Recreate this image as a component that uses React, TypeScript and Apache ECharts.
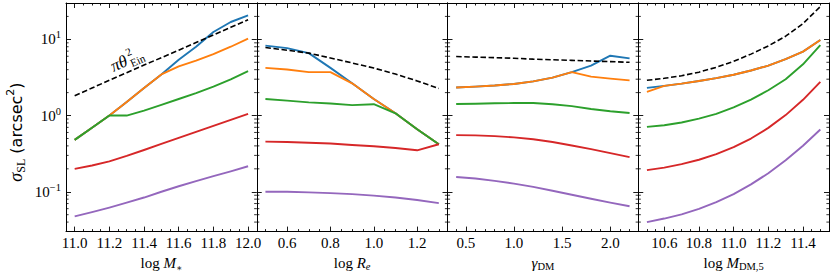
import React, { useEffect, useRef } from 'react';
import * as echarts from 'echarts';

// ---------- data ----------
const mStar = [11.0, 11.1, 11.2, 11.3, 11.4, 11.5, 11.6, 11.7, 11.8, 11.9, 12.0];
const p1Blue = [0.48, 0.69, 1.0, 1.51, 2.3, 3.46, 5.4, 8.0, 12.5, 16.9, 20.7];
const p1Orange = [0.48, 0.69, 1.0, 1.51, 2.3, 3.46, 4.43, 5.25, 6.4, 8.0, 10.2];
const p1Green = [0.48, 0.69, 1.0, 1.0, 1.16, 1.38, 1.65, 1.97, 2.4, 2.98, 3.82];
const p1Red = [0.2, 0.221, 0.25, 0.295, 0.353, 0.425, 0.511, 0.611, 0.73, 0.875, 1.05];
const p1Purple = [0.0475, 0.054, 0.062, 0.072, 0.084, 0.1, 0.118, 0.138, 0.16, 0.185, 0.216];
const p1Dashed = [1.82, 2.3, 2.9, 3.65, 4.6, 5.75, 7.2, 9.1, 11.4, 14.4, 18.1];

const logRe = [0.5, 0.6, 0.7, 0.8, 0.9, 1.0, 1.1, 1.2, 1.3];
const p2Blue = [8.27, 7.66, 6.6, 4.22, 2.65, 1.65, 1.07, 0.66, 0.42];
const p2Orange = [4.23, 4.02, 3.71, 3.71, 2.65, 1.65, 1.07, 0.66, 0.42];
const p2Green = [1.65, 1.57, 1.49, 1.44, 1.37, 1.41, 1.07, 0.66, 0.42];
const p2Red = [0.455, 0.45, 0.44, 0.43, 0.41, 0.395, 0.375, 0.35, 0.42];
const p2Purple = [0.1, 0.1, 0.098, 0.096, 0.093, 0.089, 0.084, 0.078, 0.071];
const p2Dashed = [7.8, 7.2, 6.6, 5.7, 4.9, 4.2, 3.5, 2.85, 2.27];

const gammaDM = [0.4, 0.6, 0.8, 1.0, 1.2, 1.4, 1.6, 1.8, 2.0, 2.2];
const p3Blue = [2.33, 2.4, 2.48, 2.6, 2.81, 3.14, 3.71, 4.52, 6.1, 5.62];
const p3Orange = [2.33, 2.4, 2.48, 2.6, 2.81, 3.14, 3.71, 3.24, 3.05, 2.9];
const p3Green = [1.42, 1.43, 1.45, 1.46, 1.46, 1.41, 1.33, 1.22, 1.14, 1.08];
const p3Red = [0.553, 0.55, 0.537, 0.518, 0.488, 0.45, 0.404, 0.362, 0.321, 0.285];
const p3Purple = [0.156, 0.149, 0.139, 0.128, 0.116, 0.103, 0.0915, 0.081, 0.072, 0.0645];
const p3Dashed = [5.95, 5.85, 5.75, 5.65, 5.5, 5.4, 5.3, 5.2, 5.1, 5.0];

const mDM5 = [10.5, 10.6, 10.7, 10.8, 10.9, 11.0, 11.1, 11.2, 11.3, 11.4, 11.5];
const p4Blue = [2.31, 2.45, 2.62, 2.84, 3.1, 3.43, 3.9, 4.52, 5.5, 6.9, 9.8];
const p4Orange = [2.05, 2.45, 2.62, 2.84, 3.1, 3.43, 3.9, 4.52, 5.5, 6.9, 9.8];
const p4Green = [0.71, 0.745, 0.81, 0.91, 1.05, 1.28, 1.62, 2.15, 3.0, 4.7, 8.4];
const p4Red = [0.192, 0.207, 0.23, 0.263, 0.312, 0.385, 0.499, 0.689, 1.014, 1.61, 2.77];
const p4Purple = [0.04, 0.0445, 0.0506, 0.0596, 0.0729, 0.0933, 0.125, 0.175, 0.259, 0.401, 0.655];
const p4Dashed = [2.9, 3.08, 3.33, 3.71, 4.3, 5.14, 6.4, 8.2, 11.0, 16.1, 26.9];

const yMinorTicks = [0.04, 0.05, 0.06, 0.07, 0.08, 0.09, 0.2, 0.3, 0.4, 0.5, 0.6, 0.7, 0.8, 0.9, 2, 3, 4, 5, 6, 7, 8, 9, 20];
const Y_MIN = 0.03;
const Y_MAX = 30;

// ---------- style ----------
const COLORS = { blue: '#1f77b4', orange: '#ff7f0e', green: '#2ca02c', red: '#d62728', purple: '#9467bd' };
const SERIF = 'Liberation Serif';
const SANS = 'DejaVu Sans';

const panels = [
  { xs: mStar, blue: p1Blue, orange: p1Orange, green: p1Green, red: p1Red, purple: p1Purple, dashed: p1Dashed, split: 5, minor: 4, name: '{r|log }{i|M}{ast|∗}' },
  { xs: logRe, blue: p2Blue, orange: p2Orange, green: p2Green, red: p2Red, purple: p2Purple, dashed: p2Dashed, split: 5, minor: 4, name: '{r|log }{i|R}{subi|e}' },
  { xs: gammaDM, blue: p3Blue, orange: p3Orange, green: p3Green, red: p3Red, purple: p3Purple, dashed: p3Dashed, split: 4, minor: 5, name: '{i|γ}{sub|DM}' },
  { xs: mDM5, blue: p4Blue, orange: p4Orange, green: p4Green, red: p4Red, purple: p4Purple, dashed: p4Dashed, split: 5, minor: 4, name: '{r|log }{i|M}{sub|DM,5}' },
];

const GRID_LEFT = 66;
const GRID_W = 190.75;
const GRID_TOP = 3;
const GRID_H = 232;

const nameRich = {
  r: { fontFamily: SERIF, fontSize: 15, lineHeight: 18, color: '#000' },
  i: { fontFamily: SERIF, fontSize: 15, fontStyle: 'italic', lineHeight: 18, color: '#000' },
  sub: { fontFamily: SERIF, fontSize: 10.5, lineHeight: 8, verticalAlign: 'bottom', color: '#000' },
  subi: { fontFamily: SERIF, fontSize: 10.5, fontStyle: 'italic', lineHeight: 8, verticalAlign: 'bottom', color: '#000' },
  ast: { fontFamily: 'DejaVu Serif', fontSize: 9, lineHeight: 8, verticalAlign: 'bottom', color: '#000' },
};

const tickLine = { color: '#000', width: 0.9 };

function buildOption() {
  const grid: any[] = [];
  const xAxis: any[] = [];
  const yAxis: any[] = [];
  const series: any[] = [];

  panels.forEach((p, g) => {
    const lo = p.xs[0];
    const hi = p.xs[p.xs.length - 1];
    const pad = (hi - lo) * 0.05;
    const min = +(lo - pad).toFixed(4);
    const max = +(hi + pad).toFixed(4);
    grid.push({ left: GRID_LEFT + g * GRID_W, top: GRID_TOP, width: GRID_W, height: GRID_H, containLabel: false });

    const baseX = {
      type: 'value', gridIndex: g, min, max, splitNumber: p.split,
      axisLine: { show: true, onZero: false, lineStyle: { color: '#000', width: 1 } },
      axisTick: { show: true, inside: true, length: 5, lineStyle: tickLine },
      minorTick: { show: true, splitNumber: p.minor, length: 2.5, lineStyle: tickLine },
      splitLine: { show: false },
      minorSplitLine: { show: false },
    };
    xAxis.push({
      ...baseX, position: 'bottom',
      axisLabel: {
        show: true, margin: 4, interval: 0, showMinLabel: false, showMaxLabel: false,
        fontFamily: SERIF, fontSize: 15, lineHeight: 15, color: '#000',
        formatter: (v: number) => v.toFixed(1),
      },
      name: p.name, nameLocation: 'middle', nameGap: 14,
      nameTextStyle: { rich: nameRich, fontFamily: SERIF, fontSize: 15, color: '#000' },
    });
    xAxis.push({ ...baseX, position: 'top', axisLabel: { show: false } });

    const baseY = {
      type: 'log', logBase: 10, gridIndex: g, min: Y_MIN, max: Y_MAX,
      axisLine: { show: true, onZero: false, lineStyle: { color: '#000', width: 1 } },
      axisTick: { show: true, inside: true, length: 5, lineStyle: tickLine },
      splitLine: { show: false },
    };
    yAxis.push({
      ...baseY, position: 'left',
      axisLabel: g === 0 ? {
        show: true, margin: 5, showMinLabel: false, showMaxLabel: false,
        formatter: (v: number) => {
          const l = Math.log10(v);
          const e = Math.round(l);
          if (Math.abs(l - e) > 1e-6) return '';
          return `{b|10}{s|${e < 0 ? '−' : ''}${Math.abs(e)}}`;
        },
        rich: {
          b: { fontFamily: SERIF, fontSize: 15, lineHeight: 20, color: '#000' },
          s: { fontFamily: SERIF, fontSize: 10.5, lineHeight: 13, verticalAlign: 'top', color: '#000' },
        },
      } : { show: false },
    });
    yAxis.push({ ...baseY, position: 'right', axisLabel: { show: false } });

    const xi = 2 * g;
    const yi = 2 * g;
    const lineSeries = (arr: number[], color: string, dashed = false) => ({
      type: 'line', xAxisIndex: xi, yAxisIndex: yi, showSymbol: false, symbol: 'none',
      silent: true, animation: false, smooth: false,
      lineStyle: dashed ? { color: '#000', width: 1.6, type: [5.5, 2.6] } : { color, width: 1.9, join: 'round' },
      data: p.xs.map((x, i) => [x, arr[i]]),
    });
    series.push(lineSeries(p.blue, COLORS.blue));
    series.push(lineSeries(p.orange, COLORS.orange));
    series.push(lineSeries(p.green, COLORS.green));
    series.push(lineSeries(p.red, COLORS.red));
    series.push(lineSeries(p.purple, COLORS.purple));
    series.push(lineSeries(p.dashed, '#000', true));

    // minor log ticks on left and right spines
    series.push({
      type: 'custom', xAxisIndex: xi, yAxisIndex: yi, silent: true, z: 5, clip: false,
      encode: { x: 0, y: 1 },
      data: yMinorTicks.map((v) => [p.xs[0], v]),
      renderItem: (params: any, api: any) => {
        const cs = params.coordSys;
        const y = api.coord([api.value(0), api.value(1)])[1];
        const st = { stroke: '#000', lineWidth: 0.8 };
        return {
          type: 'group',
          children: [
            { type: 'line', shape: { x1: cs.x, y1: y, x2: cs.x + 2.6, y2: y }, style: st },
            { type: 'line', shape: { x1: cs.x + cs.width - 2.6, y1: y, x2: cs.x + cs.width, y2: y }, style: st },
          ],
        };
      },
    });
  });

  const graphic = [
    {
      type: 'text', x: 16, y: 132, rotation: Math.PI / 2,
      style: {
        text: '{s|σ}{sub|SL}{a| (arcsec}{sup|2}{a|)}',
        align: 'center', verticalAlign: 'middle',
        rich: {
          s: { fontFamily: SERIF, fontStyle: 'italic', fontSize: 18, lineHeight: 22, fill: '#000' },
          sub: { fontFamily: SERIF, fontSize: 12, lineHeight: 10, verticalAlign: 'bottom', fill: '#000' },
          a: { fontFamily: SANS, fontSize: 16, lineHeight: 22, fill: '#000' },
          sup: { fontFamily: SANS, fontSize: 11, lineHeight: 14, verticalAlign: 'top', fill: '#000' },
        },
      },
    },
    {
      type: 'group', x: 131, y: 57, rotation: 0.42,
      children: [
        { type: 'text', x: -22, y: 1, style: { text: 'πθ', fontFamily: SERIF, fontStyle: 'italic', fontSize: 17, fill: '#000', align: 'left', verticalAlign: 'middle' } },
        { type: 'text', x: -3, y: -6, style: { text: '2', fontFamily: SERIF, fontSize: 11, fill: '#000', align: 'left', verticalAlign: 'middle' } },
        { type: 'text', x: -3, y: 6, style: { text: 'Ein', fontFamily: SERIF, fontSize: 11, fill: '#000', align: 'left', verticalAlign: 'middle' } },
      ],
    },
  ];

  return { animation: false, backgroundColor: '#fff', grid, xAxis, yAxis, series, graphic };
}

export default function App() {
  const ref = useRef<HTMLDivElement>(null);
  useEffect(() => {
    if (!ref.current) return;
    const chart = echarts.init(ref.current, null, { renderer: 'svg' });
    chart.setOption(buildOption() as any);
    return () => chart.dispose();
  }, []);
  return <div ref={ref} style={{ position: 'absolute', left: 0, top: 0, width: 830, height: 277 }} />;
}
